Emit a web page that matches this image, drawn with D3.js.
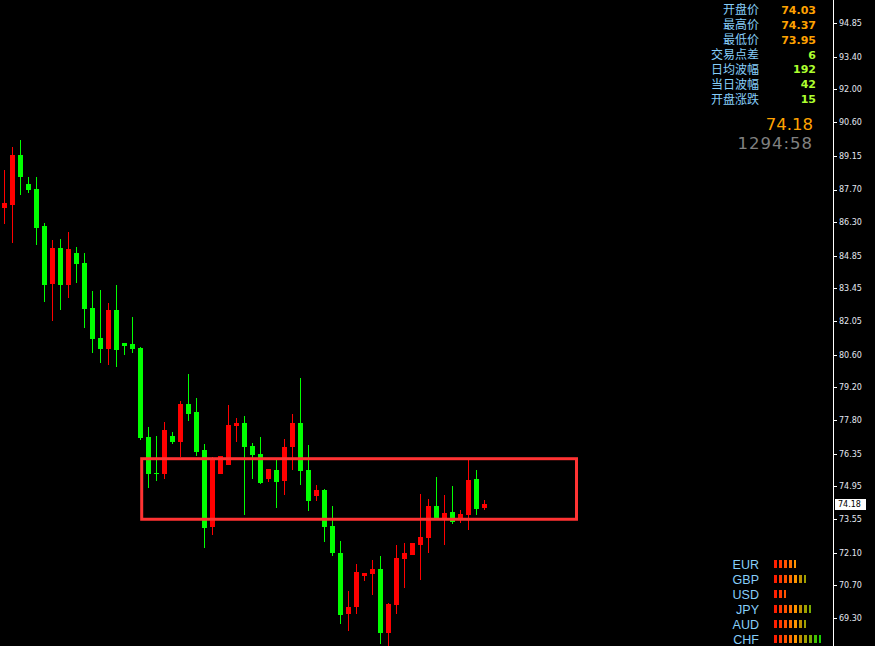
<!DOCTYPE html>
<html><head><meta charset="utf-8">
<script src="https://cdn.jsdelivr.net/npm/d3@7"></script>
<style>html,body{margin:0;padding:0;background:#000;overflow:hidden}</style>
</head><body>
<svg id="c" width="875" height="646"></svg>
<script>
// ---- data ----
const opens  = [86.92,87.05,89.18,87.94,87.72,86.13,83.66,85.19,83.61,84.97,84.55,82.61,81.33,80.87,82.53,81.11,81.07,80.90,77.07,75.51,75.50,77.12,76.87,78.49,78.15,76.52,73.22,75.50,75.89,77.56,77.68,76.69,76.34,75.28,75.66,75.20,76.66,77.68,75.66,74.55,74.80,73.25,72.09,69.49,69.79,71.12,71.20,71.41,68.67,69.87,71.85,72.02,72.45,72.75,74.11,73.56,73.85,73.55,73.74,75.27,74.03];
const highs  = [88.54,89.51,89.83,88.24,88.24,86.25,85.53,85.58,85.88,85.23,84.97,83.34,83.39,82.83,83.60,81.11,82.23,80.94,77.50,77.12,77.72,77.29,78.61,79.78,78.75,76.77,76.20,76.26,78.45,77.89,77.98,76.82,77.07,75.70,76.10,76.99,78.06,79.61,76.73,75.01,74.84,74.11,72.60,70.46,71.62,71.23,71.79,71.96,69.96,72.44,72.52,72.52,74.63,74.41,75.36,74.58,74.97,73.94,76.09,75.66,74.37];
const lows   = [86.23,85.42,87.48,87.56,85.33,82.88,82.07,82.54,83.06,83.70,81.77,80.69,80.26,80.18,80.09,80.61,80.69,76.96,74.90,75.20,75.28,76.79,76.20,77.77,76.27,72.32,72.88,75.50,75.89,76.87,73.72,75.28,75.07,75.16,74.04,74.60,75.67,75.03,73.91,74.34,72.58,71.98,69.06,68.76,69.49,70.90,70.30,68.20,68.05,69.49,70.60,72.02,70.95,72.11,73.60,72.44,73.35,73.39,73.09,73.74,73.95];
const closes = [87.12,89.18,88.25,87.69,86.06,83.61,85.19,83.61,85.15,84.52,82.58,81.29,80.87,82.53,80.82,80.99,80.87,77.04,75.50,75.49,77.37,76.87,78.49,78.07,76.44,73.18,76.17,76.26,77.59,77.68,76.66,76.31,75.11,75.70,75.16,76.64,77.68,75.63,74.34,74.80,73.22,72.11,69.44,69.77,71.28,71.23,71.41,68.67,69.92,71.88,72.09,72.52,72.78,74.11,73.60,73.81,73.44,73.77,75.23,74.00,74.18];

const tickValues = [94.85,93.40,92.00,90.60,89.15,87.70,86.30,84.85,83.45,82.05,80.60,79.20,77.80,76.35,74.95,73.55,72.10,70.70,69.30];
const tickLabels = ["94.85","93.40","92.00","90.60","89.15","87.70","86.30","84.85","83.45","82.05","80.60","79.20","77.80","76.35","74.95","73.55","72.10","70.70","69.30"];

const infoLabels = ["开盘价","最高价","最低价","交易点差","日均波幅","当日波幅","开盘涨跌"];
const infoValues = ["74.03","74.37","73.95","6","192","42","15"];
const infoColors = ["#ffa200","#ffa200","#ffa200","#adff2f","#adff2f","#adff2f","#adff2f"];
const lastPrice = 74.18;
const lastPriceLabel = "74.18";
const timerLabel = "1294:58";

const currencies = ["EUR","GBP","USD","JPY","AUD","CHF"];
const strengths  = [5,7,3,8,7,10];
const strengthColors = ["#ff1e00","#ff3a00","#ff5400","#ff7000","#ff9400","#c09000","#a0a000","#78ac00","#44c000","#18d000"];

// zone rectangle: bar indices and price levels
const zoneBars   = [17.15, 71.5];
const zonePrices = [76.14, 73.54];

// ---- drawing ----
const svg = d3.select("#c");
svg.append("rect").attr("width",875).attr("height",646).attr("fill","#000");

const x = d3.scaleLinear().domain([0, 60]).range([4.5, 484.5]);
const y = d3.scaleLinear().domain([69.30, 94.85]).range([618, 23]);

const candles = opens.map((o,i)=>({i,o,h:highs[i],l:lows[i],c:closes[i]}));
const col = d => d.c >= d.o ? "#ff0000" : "#00ff00";

const g = svg.append("g").attr("shape-rendering","crispEdges");
g.selectAll(".wick").data(candles).join("rect")
  .attr("x", d => x(d.i) - 0.5).attr("width", 1)
  .attr("y", d => y(d.h)).attr("height", d => Math.max(1, y(d.l) - y(d.h)))
  .attr("fill", col);
g.selectAll(".body").data(candles).join("rect")
  .attr("x", d => x(d.i) - 2.5).attr("width", 5)
  .attr("y", d => y(Math.max(d.o,d.c)))
  .attr("height", d => Math.max(1, Math.abs(y(d.o) - y(d.c))))
  .attr("fill", col);

// zone
svg.append("rect")
  .attr("x", x(zoneBars[0])).attr("width", x(zoneBars[1]) - x(zoneBars[0]))
  .attr("y", y(zonePrices[0])).attr("height", y(zonePrices[1]) - y(zonePrices[0]))
  .attr("fill","none").attr("stroke","#ff3333").attr("stroke-width",3);

// right axis
const axisX = 833.5;
svg.append("line").attr("x1",axisX).attr("x2",axisX).attr("y1",0).attr("y2",646)
  .attr("stroke","#ffffff").attr("stroke-width",1);
const ax = svg.append("g");
tickValues.forEach((v,k)=>{
  const yy = Math.round(y(v)) + 0.5;
  ax.append("line").attr("x1",834).attr("x2",837).attr("y1",yy).attr("y2",yy)
    .attr("stroke","#ffffff").attr("stroke-width",1);
  ax.append("text").attr("x",839).attr("y",y(v)).attr("dy","0.35em")
    .attr("font-family","DejaVu Sans").attr("font-size","8px")
    .attr("fill","#e4e8f0").text(tickLabels[k]);
});
// last price tag
const ly = y(lastPrice);
svg.append("rect").attr("x",835).attr("y",ly-5.5).attr("width",31).attr("height",11)
  .attr("fill","#ffffff").attr("shape-rendering","crispEdges");
svg.append("text").attr("x",838).attr("y",ly).attr("dy","0.36em")
  .attr("font-family","DejaVu Sans").attr("font-size","8px").attr("fill","#000")
  .text(lastPriceLabel);

// info panel
const rowY = d3.scaleLinear().domain([0,6]).range([10, 99.3]);
infoLabels.forEach((t,k)=>{
  svg.append("text").attr("x",759).attr("y",rowY(k)).attr("dy","0.36em")
    .attr("text-anchor","end").attr("font-family","Noto Sans CJK SC").attr("font-size","12px")
    .attr("fill","#87cefa").text(t);
  svg.append("text").attr("x",816).attr("y",rowY(k)).attr("dy","0.36em")
    .attr("text-anchor","end").attr("font-family","DejaVu Sans").attr("font-weight","bold")
    .attr("font-size","11px").attr("fill",infoColors[k]).text(infoValues[k]);
});
svg.append("text").attr("x",813).attr("y",124.5).attr("dy","0.36em").attr("text-anchor","end")
  .attr("font-family","DejaVu Sans").attr("font-size","16.5px").attr("fill","#ffa200")
  .text(lastPriceLabel);
svg.append("text").attr("x",813).attr("y",143.5).attr("dy","0.36em").attr("text-anchor","end")
  .attr("font-family","DejaVu Sans").attr("font-size","16.5px").attr("letter-spacing","1px")
  .attr("fill","#808080").text(timerLabel);

// currency strength
const cy = d3.scaleLinear().domain([0,5]).range([564, 639]);
currencies.forEach((c,r)=>{
  svg.append("text").attr("x",759).attr("y",cy(r)).attr("dy","0.36em").attr("text-anchor","end")
    .attr("font-family","Liberation Sans").attr("font-size","12.5px").attr("fill","#87cefa").text(c);
  const n = strengths[r];
  for(let k=0;k<n;k++){
    svg.append("rect").attr("x",774+5*k).attr("y",cy(r)-4).attr("width",k===n-1?2:3).attr("height",8)
      .attr("fill",strengthColors[k]).attr("shape-rendering","crispEdges");
  }
});
</script>
</body></html>
